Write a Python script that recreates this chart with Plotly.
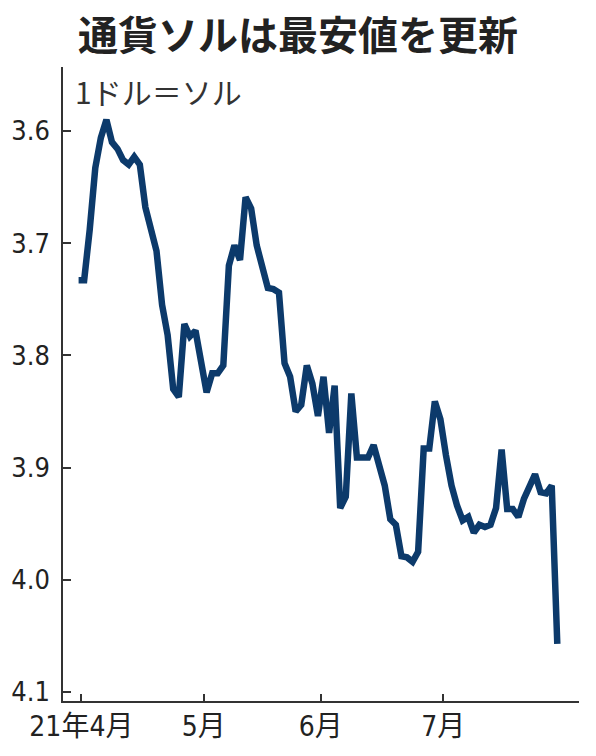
import plotly.graph_objects as go

# 1ドル=ソル, trading days from early April to late July 2021
rate = [3.733, 3.733, 3.688, 3.633, 3.606, 3.590, 3.610, 3.616, 3.626, 3.630,
        3.623, 3.630, 3.668, 3.687, 3.707, 3.755, 3.782, 3.830, 3.837, 3.772,
        3.783, 3.778, 3.810, 3.833, 3.816, 3.816, 3.809, 3.720, 3.702, 3.715,
        3.659, 3.669, 3.702, 3.722, 3.740, 3.741, 3.744, 3.807, 3.819, 3.850,
        3.844, 3.809, 3.825, 3.854, 3.819, 3.869, 3.827, 3.936, 3.926, 3.834,
        3.891, 3.891, 3.891, 3.880, 3.901, 3.916, 3.946, 3.951, 3.979, 3.980,
        3.984, 3.975, 3.883, 3.883, 3.841, 3.857, 3.889, 3.916, 3.934, 3.947,
        3.944, 3.958, 3.951, 3.953, 3.951, 3.936, 3.884, 3.937, 3.937, 3.944,
        3.928, 3.917, 3.906, 3.922, 3.923, 3.916, 4.057]
day = list(range(len(rate)))

month_ticks = [0.5, 22.5, 43.5, 65.5]
month_labels = ["21年4月", "5月", "6月", "7月"]
y_ticks = [3.6, 3.7, 3.8, 3.9, 4.0, 4.1]
y_labels = ["3.6", "3.7", "3.8", "3.9", "4.0", "4.1"]

narrow = "DejaVu Sans Condensed, Liberation Sans Narrow, Noto Sans CJK JP"

fig = go.Figure()
fig.add_trace(go.Scatter(x=day, y=rate, mode="lines",
                         line=dict(color="#0c3a6b", width=6.5)))

fig.update_xaxes(range=[-2.8, 89.9], tickvals=month_ticks, ticktext=month_labels,
                 ticks="inside", ticklen=7, tickwidth=1.5, tickcolor="#333",
                 showline=True, linecolor="#333", linewidth=1.5,
                 showgrid=False, zeroline=False, automargin=False,
                 tickfont=dict(family=narrow, size=28, color="#222"))
fig.update_yaxes(range=[4.108, 3.543], tickvals=y_ticks, ticktext=y_labels,
                 ticks="inside", ticklen=8, tickwidth=1.5, tickcolor="#333",
                 showline=True, linecolor="#333", linewidth=1.5,
                 showgrid=False, zeroline=False, automargin=False,
                 ticklabelstandoff=6,
                 tickfont=dict(family=narrow, size=27, color="#222"))

fig.update_layout(
    width=596, height=756,
    margin=dict(l=63, r=17, t=67, b=55),
    paper_bgcolor="white", plot_bgcolor="white",
    showlegend=False,
    title=dict(text="<b>通貨ソルは最安値を更新</b>", x=0.5, xref="container",
               y=1 - 36 / 756, yref="container", xanchor="center", yanchor="middle",
               font=dict(family="Noto Sans CJK JP", size=40, color="#222")),
    annotations=[dict(text="1ドル＝ソル", xref="paper", yref="paper",
                      x=0.019, y=0.9617, xanchor="left", yanchor="middle",
                      showarrow=False,
                      font=dict(family="Noto Sans CJK JP", size=30, color="#333"))],
)

# drop the browser's default page margin so the figure sits at the window origin
fig.write_html("out.html", config={"displayModeBar": False},
               post_script="document.body.style.margin='0';")
